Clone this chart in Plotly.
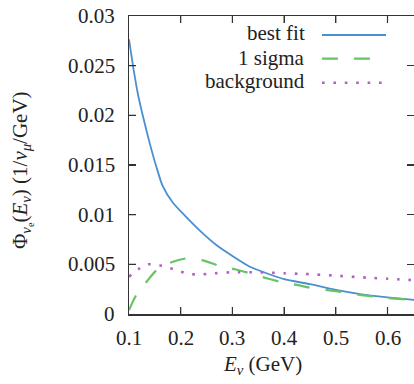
import plotly.graph_objects as go

# ---- data ----
E_fit = [0.100, 0.108, 0.117, 0.127, 0.140, 0.153, 0.165, 0.185, 0.210, 0.237,
         0.269, 0.300, 0.334, 0.366, 0.400, 0.450, 0.500, 0.550, 0.600, 0.652]
best_fit = [0.02765, 0.0249, 0.0222, 0.0199, 0.0172, 0.0148, 0.0129, 0.0112, 0.0098, 0.0084,
            0.00695, 0.00585, 0.00476, 0.0041, 0.0035, 0.0030, 0.00242, 0.00198, 0.00168, 0.00141]

E_sig = [0.100, 0.114, 0.134, 0.153, 0.182, 0.211, 0.243, 0.272, 0.305, 0.334,
         0.366, 0.392, 0.427, 0.449, 0.500, 0.550, 0.600, 0.652]
one_sigma = [0.0004, 0.0019, 0.00325, 0.0044, 0.0052, 0.0056, 0.0054, 0.0049, 0.0045, 0.0041,
             0.0036, 0.00325, 0.0029, 0.00265, 0.0023, 0.0019, 0.0016, 0.0014]

E_bg = [0.100, 0.118, 0.137, 0.159, 0.180, 0.200, 0.221, 0.243, 0.266, 0.300,
        0.350, 0.400, 0.440, 0.500, 0.560, 0.600, 0.652]
background = [0.00376, 0.0045, 0.0050, 0.0049, 0.0046, 0.00426, 0.0040, 0.0040, 0.0041, 0.0042,
              0.0042, 0.0041, 0.00403, 0.00386, 0.00366, 0.00355, 0.0034]

x_ticks = [0.1, 0.2, 0.3, 0.4, 0.5, 0.6]
x_tick_labels = ["0.1", "0.2", "0.3", "0.4", "0.5", "0.6"]
y_ticks = [0, 0.005, 0.01, 0.015, 0.02, 0.025, 0.03]
y_tick_labels = ["0", "0.005", "0.01", "0.015", "0.02", "0.025", "0.03"]
legend_names = ["best fit", "1 sigma", "background"]

# ---- style ----
W, H = 414, 384
L, R, T, B = 129, 0, 16, 70
FONT = "Liberation Serif"
TXT = "#222222"
AX = "#333333"
C_FIT = "#4a8fd0"
C_SIG = "#66c466"
C_BG = "#b360c6"
TICK = 7
styles = [dict(color=C_FIT, width=1.8, dash="solid"),
          dict(color=C_SIG, width=2.2, dash="16px,16px"),
          dict(color=C_BG, width=2.6, dash="2.6px,8.8px")]

pw = W - L - R
ph = H - T - B
def px(p):
    return (p - L) / pw
def py(p):
    return (H - B - p) / ph

fig = go.Figure()
for xs, ys, st, nm in [(E_fit, best_fit, styles[0], legend_names[0]),
                       (E_sig, one_sigma, styles[1], legend_names[1]),
                       (E_bg, background, styles[2], legend_names[2])]:
    fig.add_trace(go.Scatter(x=xs, y=ys, mode="lines", name=nm,
                             line=dict(color=st["color"], width=st["width"], dash=st["dash"],
                                       shape="spline", smoothing=0.6),
                             showlegend=False, hoverinfo="skip"))

x_max = 0.1 + pw / 517.0

fig.update_layout(
    template="none",
    width=W, height=H,
    margin=dict(l=L, r=R, t=T, b=B, pad=0),
    paper_bgcolor="white", plot_bgcolor="white",
    font=dict(family=FONT, size=21, color=TXT),
    showlegend=False,
    xaxis=dict(range=[0.1, x_max], tickvals=x_ticks, showticklabels=False,
               ticks="inside", ticklen=TICK, tickwidth=1.2, tickcolor=AX,
               showline=True, linecolor=AX, linewidth=1.5, mirror="ticks",
               showgrid=False, zeroline=False, automargin=False),
    yaxis=dict(range=[0, 0.03], tickvals=y_ticks, showticklabels=False,
               ticks="inside", ticklen=TICK, tickwidth=1.2, tickcolor=AX,
               showline=True, linecolor=AX, linewidth=1.5, mirror="ticks",
               showgrid=False, zeroline=False, automargin=False),
)

# tick marks on bottom/top/left edges (same tick lists), drawn explicitly
for v in x_ticks[1:]:
    for y0, y1 in [(0, TICK / ph), (1, 1 - TICK / ph)]:
        fig.add_shape(type="line", xref="x", yref="paper", x0=v, x1=v, y0=y0, y1=y1,
                      line=dict(color=AX, width=1.2))
for v in y_ticks[1:-1]:
    fig.add_shape(type="line", xref="paper", yref="y", x0=0, x1=TICK / pw, y0=v, y1=v,
                  line=dict(color=AX, width=1.2))

# tick labels placed like the reference (from the tick lists)
for v, lab in zip(x_ticks, x_tick_labels):
    fig.add_annotation(xref="x", yref="paper", x=v, y=py(338), text=lab, showarrow=False,
                       xanchor="center", yanchor="middle",
                       font=dict(family=FONT, size=21, color=TXT))
for v, lab in zip(y_ticks, y_tick_labels):
    fig.add_annotation(xref="paper", yref="y", x=px(117), y=v, text=lab, showarrow=False,
                       xanchor="right", yanchor="middle",
                       font=dict(family=FONT, size=21, color=TXT))

# legend drawn text-left / sample-right like the reference
rows_text_y = [33, 58, 81]
rows_line_y = [35, 58.7, 82.7]
for i, nm in enumerate(legend_names):
    fig.add_annotation(xref="paper", yref="paper", x=px(307), y=py(rows_text_y[i]),
                       text=nm, showarrow=False, xanchor="right", yanchor="middle",
                       font=dict(family=FONT, size=21, color=TXT))
    fig.add_shape(type="line", xref="paper", yref="paper",
                  x0=px(322), x1=px(386), y0=py(rows_line_y[i]), y1=py(rows_line_y[i]),
                  line=dict(color=styles[i]["color"], width=styles[i]["width"], dash=styles[i]["dash"]))

# axis titles
fig.add_annotation(xref="paper", yref="paper", x=px(262), y=py(365),
                   text="<i>E</i><sub><i>ν</i></sub> (GeV)", showarrow=False,
                   xanchor="center", yanchor="middle",
                   font=dict(family=FONT, size=21, color=TXT))
fig.add_annotation(xref="paper", yref="paper", x=px(22), y=py(170),
                   text="Φ<sub><i>ν</i><sub>e</sub></sub>(<i>E</i><sub><i>ν</i></sub>) (1/<i>ν</i><sub><i>μ</i></sub>/GeV)",
                   showarrow=False, textangle=-90, xanchor="center", yanchor="middle",
                   font=dict(family=FONT, size=21, color=TXT))

fig.write_html("out.html", config={"displayModeBar": False, "staticPlot": True},
               post_script="document.body.style.margin='0';document.body.style.overflow='hidden';")
